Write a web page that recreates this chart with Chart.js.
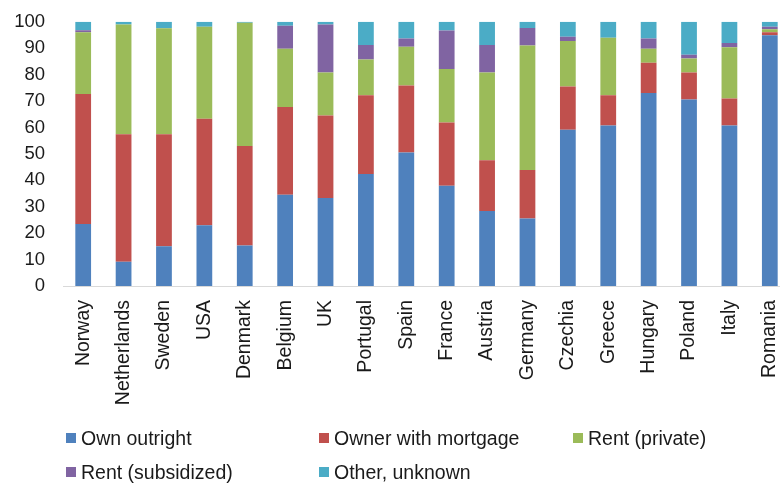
<!DOCTYPE html>
<html>
<head>
<meta charset="utf-8">
<script src="https://cdn.jsdelivr.net/npm/chart.js@4"></script>
<style>
    html, body { margin: 0; padding: 0; background: #fff; }
    #frame { position: relative; width: 780px; height: 485px; overflow: hidden; }
    #wrap { position: absolute; left: 0; top: 0; width: 790px; height: 485px; }
    #legend { position: absolute; left: 66px; top: 0; width: 780px; height: 485px; pointer-events: none;
              font-family: 'Liberation Sans', Arial, sans-serif; font-size: 19.5px; color: #1a1a1a; }
    .item { position: absolute; display: flex; align-items: center; height: 24px; white-space: nowrap; }
    .box { width: 10px; height: 10px; margin-right: 5px; }
</style>
</head>
<body>
<div id="frame">
    <div id="wrap"><canvas id="chart"></canvas></div>
    <div id="legend"></div>
</div>
<script>
// Tenure shares by country, percent
const countries = ['Norway', 'Netherlands', 'Sweden', 'USA', 'Denmark', 'Belgium', 'UK', 'Portugal', 'Spain',
    'France', 'Austria', 'Germany', 'Czechia', 'Greece', 'Hungary', 'Poland', 'Italy', 'Romania'];
const ownOutright = [23.5, 9.2, 15, 23, 15.3, 34.5, 33.3, 42.4, 50.5, 37.9, 28.4, 25.5, 59.1, 60.7, 73, 70.6, 60.7, 94.9];
const ownerMortgage = [49.1, 48.2, 42.4, 40.3, 37.7, 33.2, 31.2, 29.8, 25.4, 24, 19.2, 18.4, 16.4, 11.5, 11.5, 10.2, 10.2, 1.1];
const rentPrivate = [23.4, 41.5, 40.1, 34.8, 46.6, 22.1, 16.3, 13.5, 14.6, 20.2, 33.2, 47.1, 17.2, 21.7, 5.3, 5.3, 19.4, 1.1];
const rentSubsidized = [0.8, 0, 0, 0, 0, 8.7, 18.1, 5.5, 3.1, 14.6, 10.4, 6.6, 1.6, 0, 3.8, 1.4, 1.6, 1.0];
const otherUnknown = [3.2, 1.1, 2.5, 1.9, 0.4, 1.5, 1.1, 8.8, 6.4, 3.3, 8.8, 2.4, 5.7, 6.1, 6.4, 12.5, 8.1, 1.9];

const seriesNames = ['Own outright', 'Owner with mortgage', 'Rent (private)', 'Rent (subsidized)', 'Other, unknown'];
const seriesColors = ['#4F81BD', '#C0504D', '#9BBB59', '#8064A2', '#4BACC6'];
const seriesData = [ownOutright, ownerMortgage, rentPrivate, rentSubsidized, otherUnknown];

const font = "'Liberation Sans', Arial, sans-serif";
const textColor = '#1a1a1a';

const chart = new Chart(document.getElementById('chart'), {
    type: 'bar',
    data: {
        labels: countries,
        datasets: seriesNames.map((name, i) => ({
            label: name,
            data: seriesData[i],
            backgroundColor: seriesColors[i],
            borderWidth: 0,
            barPercentage: 0.39,
            categoryPercentage: 1
        }))
    },
    options: {
        responsive: true,
        maintainAspectRatio: false,
        animation: false,
        layout: { padding: { top: 21.7, left: 0, right: 0, bottom: 0 } },
        plugins: {
            legend: { display: false },
            tooltip: { enabled: false }
        },
        scales: {
            x: {
                stacked: true,
                grid: { display: false, drawTicks: false },
                border: { display: true, color: '#d9d9d9', width: 1 },
                ticks: {
                    color: textColor,
                    font: { family: font, size: 19.5 },
                    minRotation: 90,
                    maxRotation: 90,
                    autoSkip: false,
                    padding: 14
                },
                afterFit: (scale) => {
                    scale.height = 485 - 286;
                    scale.paddingLeft = 0;
                    scale.paddingRight = 0;
                }
            },
            y: {
                stacked: true,
                min: 0,
                max: 100,
                grid: { display: false, drawTicks: false },
                border: { display: false },
                ticks: {
                    stepSize: 10,
                    color: textColor,
                    font: { family: font, size: 18.5 },
                    padding: 18
                },
                afterFit: (scale) => {
                    scale.width = 63;
                    scale.paddingTop = 0;
                    scale.paddingBottom = 0;
                }
            }
        }
    }
});

// Legend in fixed columns like the original
const legend = document.getElementById('legend');
const colX = [0, 253, 507];
const rowY = [438, 472];
chart.data.datasets.forEach((ds, i) => {
    const item = document.createElement('div');
    item.className = 'item';
    item.style.left = colX[i % 3] + 'px';
    item.style.top = (rowY[Math.floor(i / 3)] - 12) + 'px';
    item.innerHTML = `<span class="box" style="background:${ds.backgroundColor}"></span><span>${ds.label}</span>`;
    legend.appendChild(item);
});
</script>
</body>
</html>
